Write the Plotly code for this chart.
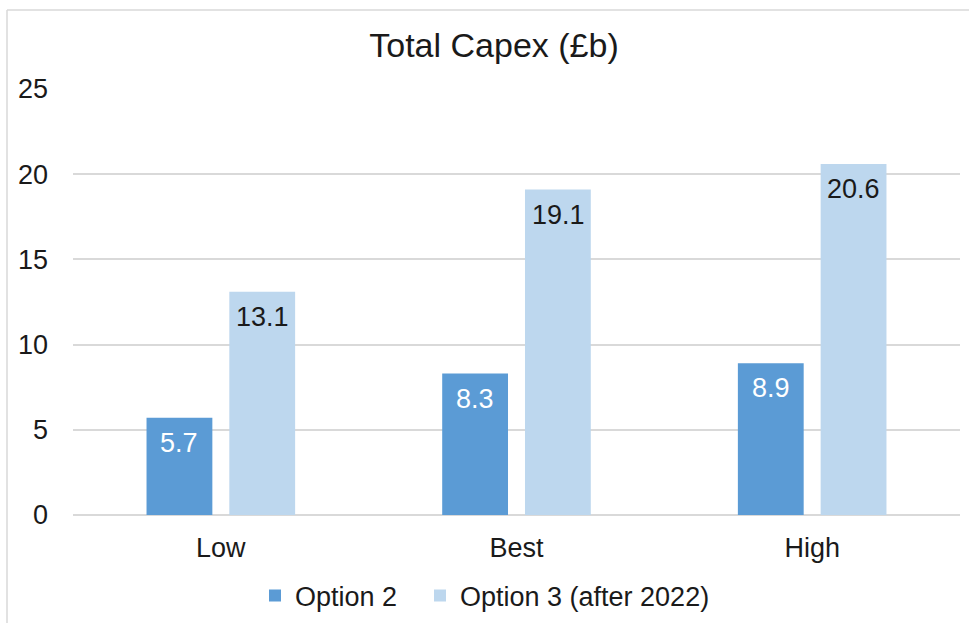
import plotly.graph_objects as go

# Scenario categories and capital expenditure (£ billion) per option
scenarios = ["Low", "Best", "High"]
option2_capex = [5.7, 8.3, 8.9]
option3_capex = [13.1, 19.1, 20.6]
series_names = ["Option 2", "Option 3 (after 2022)"]
y_ticks = [0, 5, 10, 15, 20, 25]

FONT = "Liberation Sans, Arial, sans-serif"
TEXT = "#1a1a1a"
GRID = "#d9d9d9"
COLORS = ["#5b9bd5", "#bdd7ee"]
LABEL_COLORS = ["white", TEXT]
SLOT_OFFSET = 41.5  # half the width of one bar slot within a group, px

fig = go.Figure()
series = [option2_capex, option3_capex]
for j, values in enumerate(series):
    fig.add_trace(go.Bar(
        x=scenarios, y=values, name=series_names[j],
        marker=dict(color=COLORS[j], line=dict(width=0)),
        legend="legend" if j == 0 else "legend2",
    ))
    # value labels just inside the top of each bar
    for cat, v in zip(scenarios, values):
        fig.add_annotation(
            x=cat, y=v, text=f"{v:.1f}", showarrow=False,
            xshift=(-1 if j == 0 else 1) * SLOT_OFFSET, yshift=-8,
            yanchor="top", xanchor="center",
            font=dict(family=FONT, size=27, color=LABEL_COLORS[j]),
        )

# Light frame around the chart area (top and left edges)
frame_x = -0.0744
frame_y = 1.1854
fig.add_shape(type="line", xref="paper", yref="paper",
              x0=frame_x, x1=1.2, y0=frame_y, y1=frame_y,
              line=dict(color=GRID, width=1.5))
fig.add_shape(type="line", xref="paper", yref="paper",
              x0=frame_x, x1=frame_x, y0=frame_y, y1=-0.5,
              line=dict(color=GRID, width=1.5))

legend_common = dict(orientation="h", xref="container", yref="container",
                     xanchor="left", y=1 - 596 / 623, yanchor="middle",
                     font=dict(family=FONT, size=27, color=TEXT),
                     bgcolor="rgba(0,0,0,0)", borderwidth=0)

fig.update_layout(
    width=969, height=623,
    margin=dict(l=73, r=9, t=89, b=108),
    paper_bgcolor="white", plot_bgcolor="white",
    font=dict(family=FONT, size=27, color=TEXT),
    title=dict(text="Total Capex (£b)", x=494 / 969, xref="container", xanchor="center",
               y=1 - 45 / 623, yref="container", yanchor="middle",
               font=dict(family=FONT, size=34, color=TEXT)),
    barmode="group", bargap=0.44, bargroupgap=0.205,
    showlegend=True,
    legend=dict(x=255 / 969, **legend_common),
    legend2=dict(x=420 / 969, **legend_common),
    xaxis=dict(showgrid=False, showline=False, ticks="",
               tickfont=dict(family=FONT, size=27, color=TEXT),
               ticklabelstandoff=14),
    yaxis=dict(range=[0, 25], tickvals=y_ticks, showgrid=True,
               gridcolor=GRID, gridwidth=1.5, zeroline=True,
               zerolinecolor=GRID, zerolinewidth=1.5, showline=False,
               ticks="", tickfont=dict(family=FONT, size=27, color=TEXT),
               ticklabelstandoff=24),
)

fig.write_html("out.html")
